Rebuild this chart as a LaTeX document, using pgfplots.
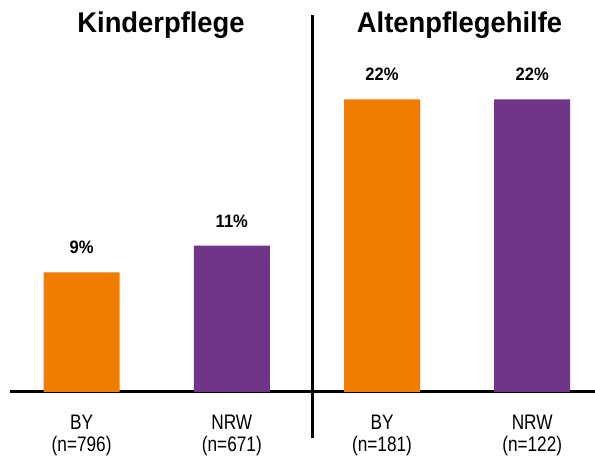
\documentclass[border=0pt]{standalone}
\usepackage{fontspec}
\setmainfont{Liberation Sans}
\newfontfamily\narrowfont[FakeStretch=0.82]{Liberation Sans}
\newfontfamily\titlefont[FakeStretch=0.96]{Liberation Sans}
\newfontfamily\labelfont[FakeStretch=0.92]{Liberation Sans}
\usepackage{pgfplots}
\pgfplotsset{compat=1.18}
\definecolor{orangebar}{RGB}{240,125,0}
\definecolor{purplebar}{RGB}{111,54,136}
\begin{document}
\begin{tikzpicture}[x=1pt,y=1pt]
\useasboundingbox (0,0) rectangle (595,461);
\begin{axis}[
  at={(10pt,69pt)}, anchor=south west,
  scale only axis, width=585pt, height=392pt,
  xmin=-0.477, xmax=3.418, ymin=0, ymax=29.47,
  axis x line=bottom, axis y line=none,
  x axis line style={-, line width=3pt, black},
  xtick={0,1,2,3},
  xticklabels={{BY\\(n=796)},{NRW\\(n=671)},{BY\\(n=181)},{NRW\\(n=122)}},
  major tick length=0pt,
  xticklabel style={font=\narrowfont\fontsize{21}{22}\selectfont, align=center, anchor=north, inner sep=0pt, yshift=-23pt},
  ytick=\empty,
  clip=false,
  /pgf/number format/assume math mode=true,
  nodes near coords={\pgfmathprintnumber{\pgfplotspointmeta}\%},
  every node near coord/.append style={font=\labelfont\bfseries\fontsize{18}{20}\selectfont, anchor=base, inner sep=0pt, yshift=18.5pt},
]
\addplot[ybar, bar width=76pt, bar shift=0pt, fill=orangebar, draw=none] coordinates {(0,9) (2,22)};
\addplot[ybar, bar width=76pt, bar shift=0pt, fill=purplebar, draw=none] coordinates {(1,11) (3,22)};
\end{axis}
\draw[line width=3pt] (312,446) -- (312,23);
\node[anchor=base, inner sep=0pt, font=\titlefont\bfseries\fontsize{28.5}{30}\selectfont] at (161,428) {Kinderpflege};
\node[anchor=base, inner sep=0pt, font=\titlefont\bfseries\fontsize{28.5}{30}\selectfont] at (459.5,428) {Altenpflegehilfe};
\end{tikzpicture}
\end{document}
